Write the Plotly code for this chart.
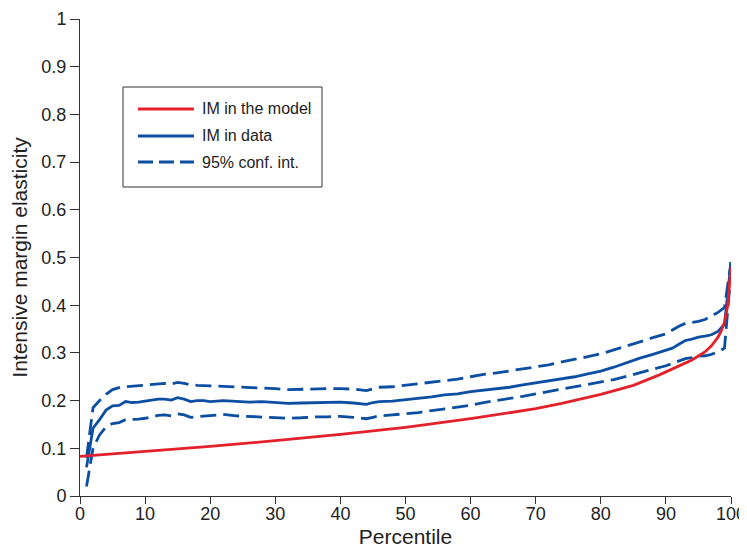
#!/usr/bin/env python3
"""
Intensive margin elasticity by percentile: model vs data with 95% CI
"""

import plotly.graph_objects as go

# percentiles for the data series
pct = [1, 2, 3, 4, 5, 6, 7, 8, 9, 10, 11, 12, 13, 14, 15, 16, 17, 18, 19, 20,
       22, 24, 26, 28, 30, 32, 34, 36, 38, 40, 42, 44,
       45, 46,
       48, 50, 52, 54, 56, 58, 60, 62, 64, 66, 68, 70, 72, 74, 76, 78, 80, 82, 84, 86, 88, 90,
       91, 92, 93, 94, 95, 96, 97, 98, 99, 100]

im_data = [0.06, 0.142, 0.16, 0.18, 0.189, 0.19, 0.198, 0.196, 0.197, 0.199,
           0.202, 0.203, 0.203, 0.201, 0.206, 0.203, 0.198, 0.2, 0.2, 0.198,
           0.2, 0.198, 0.197, 0.198, 0.196, 0.194, 0.195, 0.196, 0.196, 0.197, 0.195, 0.192,
           0.196, 0.198,
           0.199, 0.202, 0.204, 0.208, 0.212, 0.214, 0.219, 0.222, 0.224, 0.228, 0.233,
           0.237, 0.241, 0.246, 0.25, 0.256, 0.262, 0.27, 0.28, 0.289, 0.297, 0.305,
           0.31, 0.318, 0.326, 0.329, 0.333, 0.335, 0.338, 0.345, 0.36, 0.49]

ci_upper = [0.08, 0.185, 0.2, 0.213, 0.223, 0.227, 0.229, 0.23, 0.231, 0.233,
            0.234, 0.235, 0.236, 0.235, 0.238, 0.236, 0.233, 0.232, 0.232, 0.231,
            0.23, 0.229, 0.228, 0.227, 0.225, 0.223, 0.224, 0.225, 0.225, 0.225, 0.224, 0.221,
            0.225, 0.228,
            0.229, 0.232, 0.235, 0.238, 0.242, 0.245, 0.25, 0.255, 0.258, 0.262, 0.267,
            0.27, 0.275, 0.281, 0.286, 0.292, 0.298, 0.306, 0.315, 0.323, 0.332, 0.34,
            0.348, 0.356, 0.362, 0.364, 0.366, 0.37, 0.377, 0.385, 0.395, 0.49]

ci_lower = [0.02, 0.1, 0.128, 0.145, 0.152, 0.154, 0.16, 0.16, 0.161, 0.163,
            0.166, 0.169, 0.17, 0.168, 0.172, 0.17, 0.165, 0.166, 0.168, 0.168,
            0.171, 0.168, 0.167, 0.166, 0.165, 0.163, 0.164, 0.166, 0.166, 0.167, 0.165, 0.162,
            0.165, 0.168,
            0.17, 0.172, 0.175, 0.179, 0.183, 0.186, 0.19, 0.196, 0.2, 0.204, 0.209,
            0.214, 0.219, 0.223, 0.228, 0.233, 0.238, 0.244, 0.251, 0.258, 0.265, 0.273,
            0.278, 0.283, 0.288, 0.29, 0.293, 0.294, 0.297, 0.302, 0.31, 0.47]

# model curve
pct_model = [0, 10, 20, 30, 40, 50, 60, 70, 74, 80, 85, 89, 92, 94, 96, 97, 98, 98.5, 99, 99.5, 100]
im_model = [0.083, 0.093, 0.104, 0.116, 0.129, 0.144, 0.162, 0.183, 0.194, 0.213,
            0.232, 0.254, 0.272, 0.285, 0.302, 0.315, 0.333, 0.346, 0.365, 0.40, 0.48]

x_ticks = list(range(0, 101, 10))
y_ticks = [i / 10 for i in range(11)]
y_ticktext = ["0", "0.1", "0.2", "0.3", "0.4", "0.5", "0.6", "0.7", "0.8", "0.9", "1"]

RED = "#e3212b"
BLUE = "#0b4ea2"
AXIS = "#333333"
FONT = "Liberation Sans, Arial, sans-serif"

# the page body has an 8px margin, so the figure is shrunk by that amount
OFF = 8
W, H = 747 - OFF, 548 - OFF
L, R, T, B = 80 - OFF, 16, 19 - OFF, 52


def px_x(v):
    # window pixel -> paper coordinate
    return (v - OFF - L) / (W - L - R)


def px_y(v):
    return (H - B - (v - OFF)) / (H - T - B)


fig = go.Figure()
dash = "16px,7px"
fig.add_trace(go.Scatter(x=pct, y=ci_upper, mode="lines",
                         line=dict(color=BLUE, width=2.8, dash=dash), showlegend=False))
fig.add_trace(go.Scatter(x=pct, y=ci_lower, mode="lines",
                         line=dict(color=BLUE, width=2.8, dash=dash), showlegend=False))
fig.add_trace(go.Scatter(x=pct, y=im_data, mode="lines",
                         line=dict(color=BLUE, width=2.8), showlegend=False))
fig.add_trace(go.Scatter(x=pct_model, y=im_model, mode="lines",
                         line=dict(color=RED, width=2.8), showlegend=False))

# hand-drawn legend box
shapes = [dict(type="rect", xref="paper", yref="paper",
               x0=px_x(123), x1=px_x(322), y0=px_y(187), y1=px_y(87),
               line=dict(color=AXIS, width=1), fillcolor="white", layer="above")]
annotations = []
entries = [("IM in the model", RED, "solid", 109),
           ("IM in data", BLUE, "solid", 136),
           ("95% conf. int.", BLUE, "dash", 162)]
for label, color, style, yy in entries:
    shapes.append(dict(type="line", xref="paper", yref="paper",
                       x0=px_x(138), x1=px_x(194), y0=px_y(yy), y1=px_y(yy),
                       line=dict(color=color, width=2.8,
                                 dash="15px,6px" if style == "dash" else "solid"),
                       layer="above"))
    annotations.append(dict(text=label, xref="paper", yref="paper",
                            x=px_x(200), y=px_y(yy), xanchor="left", yanchor="middle",
                            showarrow=False, font=dict(size=16, color="#222", family=FONT)))

fig.update_layout(
    width=W, height=H,
    margin=dict(l=L, r=R, t=T, b=B),
    plot_bgcolor="white", paper_bgcolor="white",
    font=dict(family=FONT, color="#222", size=18),
    shapes=shapes, annotations=annotations,
    xaxis=dict(range=[0, 100], tickvals=x_ticks, showgrid=False, zeroline=False,
               showline=True, linecolor=AXIS, linewidth=1, automargin=False,
               ticks="outside", ticklen=7, tickcolor=AXIS, ticklabelstandoff=-6,
               title=dict(text="Percentile", font=dict(size=21), standoff=10)),
    yaxis=dict(range=[0, 1], tickvals=y_ticks, ticktext=y_ticktext, showgrid=False,
               zeroline=False, showline=True, linecolor=AXIS, linewidth=1, automargin=False,
               ticks="outside", ticklen=9, tickcolor=AXIS,
               title=dict(text="Intensive margin elasticity", font=dict(size=21), standoff=10)),
)

fig.write_html("out.html")
